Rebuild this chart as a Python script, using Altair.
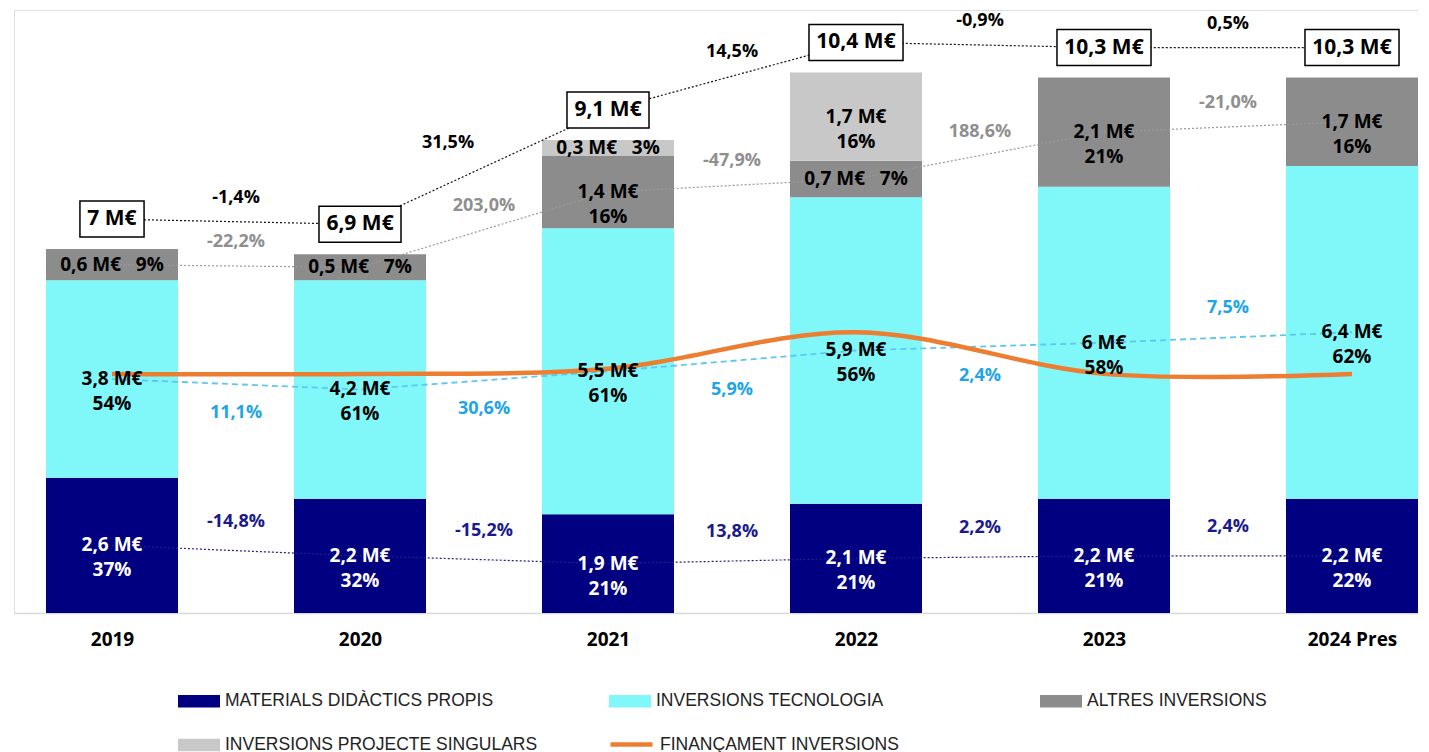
import altair as alt
import pandas as pd

# ---------------- data ----------------
years = ["2019", "2020", "2021", "2022", "2023", "2024 Pres"]
materials = [2.6, 2.2, 1.9, 2.1, 2.2, 2.2]
tecnologia = [3.8, 4.2, 5.5, 5.9, 6.0, 6.4]
altres = [0.6, 0.5, 1.4, 0.7, 2.1, 1.7]
singulars = [0.0, 0.0, 0.3, 1.7, 0.0, 0.0]
financament = [4.6, 4.6, 4.7, 5.4, 4.6, 4.6]
totals = [7.0, 6.9, 9.1, 10.4, 10.3, 10.3]

pct_materials = ["37%", "32%", "21%", "21%", "21%", "22%"]
pct_tecnologia = ["54%", "61%", "61%", "56%", "58%", "62%"]
pct_altres = ["9%", "7%", "16%", "7%", "21%", "16%"]
pct_singulars = ["", "", "3%", "16%", "", ""]

chg_totals = ["-1,4%", "31,5%", "14,5%", "-0,9%", "0,5%"]
chg_altres = ["-22,2%", "203,0%", "-47,9%", "188,6%", "-21,0%"]
chg_tecnologia = ["11,1%", "30,6%", "5,9%", "2,4%", "7,5%"]
chg_materials = ["-14,8%", "-15,2%", "13,8%", "2,2%", "2,4%"]

series_names = ["MATERIALS DIDÀCTICS PROPIS", "INVERSIONS TECNOLOGIA",
                "ALTRES INVERSIONS", "INVERSIONS PROJECTE SINGULARS"]
line_name = "FINANÇAMENT INVERSIONS"

# ---------------- style / layout ----------------
series_colors = ["#000080", "#80F8FA", "#8C8C8C", "#C8C8C8"]
line_color = "#ED7D31"
FONT = "Open Sans"
W, H = 1404, 603
YMAX = 11.6
PX = H / YMAX          # pixels per M€
STEP = 248             # pixels between bars
BAR = 132              # bar width in px
X0 = -98 / STEP
X1 = X0 + W / STEP
TEC_SIDE = [1, 1, 1, 1, -1]   # tecnologia change label below (1) / above (-1)
TOT_NUDGE = [0, -36, 0, 0, 0]  # horizontal nudge (px) of total change labels
NB = "\u00a0"

xscale = alt.Scale(domain=[X0, X1], nice=False, zero=False)
yscale = alt.Scale(domain=[0, YMAX], nice=False, zero=True)
label_expr = "[" + ",".join("'%s'" % y for y in years) + "][datum.value]"
xaxis = alt.Axis(values=list(range(len(years))), labelExpr=label_expr, title=None,
                 ticks=False, tickSize=0, grid=False, domainColor="#d9d9d9", domainWidth=1.5,
                 labelFont=FONT, labelFontWeight="bold", labelFontSize=19, labelColor="black",
                 labelPadding=17, labelFlush=False, labelOverlap=False)


def xenc(f):
    return alt.X(f + ":Q", scale=xscale, axis=xaxis)


def yenc(f):
    return alt.Y(f + ":Q", scale=yscale, axis=None)


def fmt(v):
    s = ("%.1f" % v).replace(".", ",")
    if s.endswith(",0"):
        s = s[:-2]
    return s + " M€"


CW = {"0": .572, "1": .572, "2": .572, "3": .572, "4": .572, "5": .572, "6": .572,
      "7": .572, "8": .572, "9": .572, ",": .28, " ": .26, "M": .84, "€": .572}


def text_w(s, size):
    return sum(CW.get(c, .6) for c in s) * size


# ---------------- build tables ----------------
all_series = [materials, tecnologia, altres, singulars]
all_pcts = [pct_materials, pct_tecnologia, pct_altres, pct_singulars]
seg_rows = []
centers = {0: [], 1: [], 2: []}
for i in range(len(years)):
    base = 0.0
    for s in range(4):
        v = all_series[s][i]
        if v <= 0:
            continue
        y0, y1 = base, base + v
        base = y1
        if v * PX < 45:
            lab = fmt(v) + NB + NB + NB + all_pcts[s][i]
        else:
            lab = fmt(v) + "\n" + all_pcts[s][i]
        seg_rows.append(dict(x=i - BAR / 2 / STEP, x2=i + BAR / 2 / STEP, xm=i,
                             y=y0, y2=y1, yc=(y0 + y1) / 2, series=series_names[s],
                             label=lab, tc="white" if s == 0 else "black"))
        if s in centers:
            centers[s].append((y0 + y1) / 2)
seg = pd.DataFrame(seg_rows)

BOX_OFF = 30 / PX
box_rows = []
for i, t in enumerate(totals):
    lab = fmt(t)
    bw = text_w(lab, 21) + 17
    box_rows.append(dict(x=i - bw / 2 / STEP, x2=i + bw / 2 / STEP, xm=i,
                         y=t + (BOX_OFF - 18 / PX), y2=t + (BOX_OFF + 18 / PX),
                         yc=t + BOX_OFF, label=lab))
boxes = pd.DataFrame(box_rows)

conn = {
    "mat": pd.DataFrame(dict(x=list(range(6)), y=centers[0])),
    "tec": pd.DataFrame(dict(x=list(range(6)), y=centers[1])),
    "alt": pd.DataFrame(dict(x=list(range(6)), y=centers[2])),
    "tot": pd.DataFrame(dict(x=list(range(6)), y=[t + BOX_OFF for t in totals])),
}

chg_rows = []
for i in range(5):
    mt = (totals[i] + totals[i + 1]) / 2 + BOX_OFF
    chg_rows.append(dict(x=i + 0.5 + TOT_NUDGE[i] / STEP, y=mt + 24 / PX, t=chg_totals[i], c="black"))
    ma = (centers[2][i] + centers[2][i + 1]) / 2
    chg_rows.append(dict(x=i + 0.5, y=ma + 24 / PX, t=chg_altres[i], c="#8f8f8f"))
    mc = (centers[1][i] + centers[1][i + 1]) / 2
    chg_rows.append(dict(x=i + 0.5, y=mc - TEC_SIDE[i] * 29 / PX, t=chg_tecnologia[i], c="#1ea5e6"))
    mm = (centers[0][i] + centers[0][i + 1]) / 2
    chg_rows.append(dict(x=i + 0.5, y=mm + 29 / PX, t=chg_materials[i], c="#1a1a8c"))
chg = pd.DataFrame(chg_rows)

fin = pd.DataFrame(dict(x=list(range(6)), y=financament, name=[line_name] * 6))

# ---------------- layers ----------------
bars = alt.Chart(seg).mark_rect().encode(
    x=xenc("x"), x2="x2", y=yenc("y"), y2="y2",
    fill=alt.Fill("series:N", scale=alt.Scale(domain=series_names, range=series_colors),
                  legend=alt.Legend(title=None, orient="none", legendX=164, legendY=670,
                                    direction="horizontal",
                                    columns=3, gridAlign="all", columnPadding=71, rowPadding=14,
                                    symbolType="M-1,-0.3H1V0.3H-1Z", symbolSize=1764,
                                    symbolStrokeWidth=0, labelFont="Liberation Sans",
                                    labelFontSize=17.5, labelColor="#222222", labelOffset=5,
                                    labelLimit=500)))


def conn_line(df, color, dash, width):
    return alt.Chart(df).mark_line(color=color, strokeDash=dash, strokeWidth=width).encode(
        x=xenc("x"), y=yenc("y"))


l_mat = conn_line(conn["mat"], "#20208a", [2, 2], 1.2)
l_tec = conn_line(conn["tec"], "#5cc8f0", [6, 4], 1.8)
l_alt = conn_line(conn["alt"], "#9a9a9a", [2, 2], 1.2)
l_tot = conn_line(conn["tot"], "#111111", [2, 2], 1.2)

orange = alt.Chart(fin).mark_line(interpolate="catmull-rom", strokeWidth=4.5).encode(
    x=xenc("x"), y=yenc("y"),
    stroke=alt.Stroke("name:N", scale=alt.Scale(domain=[line_name], range=[line_color]),
                      legend=alt.Legend(title=None, orient="none", legendX=594, legendY=711,
                                        symbolType="stroke", symbolSize=1764, symbolStrokeWidth=4.5,
                                        labelFont="Liberation Sans", labelFontSize=17.5,
                                        labelColor="#222222", labelOffset=5, labelLimit=500)))

box_rect = alt.Chart(boxes).mark_rect(fill="white", stroke="black", strokeWidth=1.5).encode(
    x=xenc("x"), x2="x2", y=yenc("y"), y2="y2")
box_text = alt.Chart(boxes).mark_text(font=FONT, fontSize=21, fontWeight="bold",
                                      color="black", baseline="middle").encode(
    x=xenc("xm"), y=yenc("yc"), text="label:N")

seg_text = alt.Chart(seg).mark_text(font=FONT, fontSize=19, fontWeight="bold", lineBreak="\n",
                                    lineHeight=25, baseline="middle").encode(
    x=xenc("xm"), y=yenc("yc"), text="label:N", color=alt.Color("tc:N", scale=None))

chg_text = alt.Chart(chg).mark_text(font=FONT, fontSize=18, fontWeight="bold",
                                    baseline="middle").encode(
    x=xenc("x"), y=yenc("y"), text="t:N", color=alt.Color("c:N", scale=None))

chart = alt.layer(bars, l_mat, l_tec, l_alt, l_tot, orange, box_rect, box_text,
                  seg_text, chg_text).resolve_scale(fill="independent", stroke="independent").properties(
    width=W, height=H, padding={"left": 6, "top": 2, "right": 0, "bottom": 0}
).configure_view(stroke="transparent", strokeWidth=0).configure(background="white")

chart.save("out.html", embed_options={"renderer": "svg", "actions": False})
